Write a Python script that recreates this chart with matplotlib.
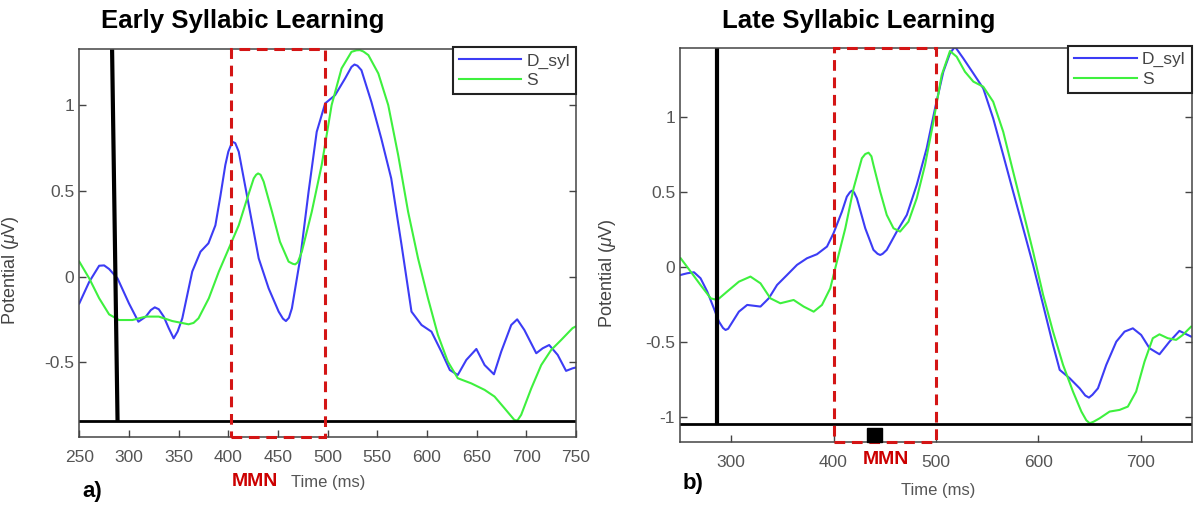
import matplotlib
matplotlib.use("Agg")
import matplotlib.pyplot as plt
from matplotlib.patches import Rectangle

plt.rcParams['font.family'] = ['Liberation Sans', 'DejaVu Sans']
plt.rcParams['mathtext.fontset'] = 'custom'
plt.rcParams['mathtext.it'] = 'Liberation Sans:italic'
plt.rcParams['mathtext.rm'] = 'Liberation Sans'

# ---------------- data: Early syllabic learning ----------------
early_dsyl_t = [250, 260, 270, 275, 280, 288.5, 300, 309.5, 317, 322, 326, 330, 335, 340, 345, 349, 353.7,
                363.7, 372, 380, 387, 392, 397, 400, 404, 407, 410.5, 420.6, 430.6, 440.6, 450.7, 455,
                458, 461, 464, 472.4, 480.8, 489, 497.5, 507.5, 517.6, 524, 527, 530, 534, 544, 554,
                564, 574.4, 584.4, 594.5, 604.5, 614.5, 623, 631, 639.6, 649.7, 658, 667.4, 674.7,
                684.8, 690.8, 698, 710, 716.5, 723, 731.6, 740, 746.6, 750]
early_dsyl_v = [-0.156, -0.03, 0.064, 0.066, 0.045, -0.01, -0.156, -0.263, -0.233, -0.195, -0.179,
                -0.19, -0.233, -0.30, -0.36, -0.32, -0.243, 0.03, 0.146, 0.195, 0.30, 0.47, 0.652,
                0.73, 0.788, 0.78, 0.73, 0.418, 0.107, -0.068, -0.204, -0.245, -0.259, -0.24, -0.185,
                0.107, 0.496, 0.846, 1.012, 1.06, 1.158, 1.225, 1.239, 1.232, 1.206, 1.021, 0.807,
                0.574, 0.185, -0.204, -0.282, -0.321, -0.438, -0.545, -0.574, -0.486, -0.422, -0.516,
                -0.57, -0.438, -0.282, -0.249, -0.311, -0.447, -0.418, -0.399, -0.457, -0.55, -0.535,
                -0.53]
early_s_t = [250, 260, 270, 280, 290, 303.5, 317, 330, 343.6, 360, 365, 370, 380.4, 390.5, 400.5,
             410.5, 419, 425.6, 428, 430, 432.5, 435.6, 444, 452, 460.7, 465, 467.4, 470, 474, 484,
             494, 504, 514, 524, 529, 532.6, 536, 541, 551, 561, 571, 581, 591, 601, 611, 621, 631,
             644.6, 658, 668, 678, 688, 691, 694.8, 705, 715, 725, 735, 746.6, 750]
early_s_v = [0.088, -0.01, -0.126, -0.22, -0.253, -0.253, -0.233, -0.233, -0.259, -0.278, -0.27, -0.243,
             -0.126, 0.03, 0.165, 0.30, 0.457, 0.574, 0.595, 0.603, 0.595, 0.555, 0.379, 0.204, 0.088,
             0.075, 0.072, 0.085, 0.146, 0.379, 0.652, 1.002, 1.216, 1.313, 1.322, 1.323, 1.315,
             1.294, 1.187, 1.002, 0.71, 0.379, 0.107, -0.126, -0.34, -0.496, -0.593, -0.623, -0.661,
             -0.70, -0.768, -0.837, -0.84, -0.807, -0.652, -0.516, -0.428, -0.37, -0.30, -0.29]

# ---------------- data: Late syllabic learning ----------------
late_dsyl_t = [250.6, 257, 263.6, 270, 276.6, 283, 288, 292, 294.5, 297, 299.4, 307.5, 315.6, 328.6,
               336.7, 344.8, 354.6, 364.3, 374, 383.8, 393.6, 400, 408.2, 413, 416, 418, 420, 422.8,
               431, 439, 443, 445.6, 448, 452, 461.8, 471.6, 481.3, 491, 499.2, 507.3, 513.8, 518.7,
               526.8, 536.6, 546.3, 556, 565.8, 575.5, 585.3, 595, 604.8, 614.5, 621, 630.8, 640.5,
               646, 649.6, 653, 658.4, 666.5, 676.3, 684.4, 692.5, 700.6, 708.8, 718.5, 728.3, 738,
               749.4]
late_dsyl_v = [-0.051, -0.04, -0.033, -0.073, -0.162, -0.273, -0.362, -0.405, -0.418, -0.41, -0.384,
               -0.296, -0.251, -0.262, -0.207, -0.118, -0.051, 0.016, 0.06, 0.087, 0.138, 0.227,
               0.371, 0.471, 0.50, 0.511, 0.50, 0.46, 0.26, 0.116, 0.09, 0.082, 0.09, 0.116, 0.238,
               0.349, 0.549, 0.793, 1.06, 1.304, 1.427, 1.471, 1.393, 1.293, 1.193, 0.993, 0.749,
               0.504, 0.26, 0.016, -0.251, -0.518, -0.684, -0.74, -0.807, -0.855, -0.869, -0.85,
               -0.807, -0.651, -0.496, -0.429, -0.407, -0.451, -0.54, -0.58, -0.496, -0.424, -0.462]
late_s_t = [250.6, 260.4, 270, 280, 286.4, 296, 307.5, 318.8, 328.6, 338.3, 348, 361, 370.8, 380.6,
            388.7, 396.8, 403.3, 411.5, 419.6, 427.7, 431, 434.2, 437, 439, 445.6, 452, 458.6, 465,
            473.2, 481.3, 489.4, 497.6, 505.7, 513.8, 520.3, 528.4, 536.6, 546.3, 556, 565.8, 575.5,
            585.3, 595, 604.8, 614.5, 624.3, 634, 642.2, 647, 650.3, 654, 660, 669.8, 679.5, 687.6,
            695.7, 703.9, 712, 718.5, 726.6, 734.8, 741.3, 749.4]
late_s_v = [0.06, -0.029, -0.118, -0.207, -0.218, -0.162, -0.096, -0.062, -0.107, -0.207, -0.24, -0.218,
            -0.262, -0.296, -0.251, -0.14, 0.038, 0.26, 0.527, 0.727, 0.755, 0.764, 0.74, 0.682,
            0.504, 0.349, 0.26, 0.238, 0.304, 0.46, 0.682, 0.971, 1.282, 1.442, 1.404, 1.304, 1.238,
            1.204, 1.104, 0.904, 0.638, 0.371, 0.104, -0.184, -0.429, -0.651, -0.829, -0.962, -1.02,
            -1.04, -1.03, -1.007, -0.962, -0.951, -0.929, -0.829, -0.629, -0.473, -0.447, -0.473,
            -0.484, -0.451, -0.396]

series_labels = ['D_syl', 'S']
early_xticks = [250, 300, 350, 400, 450, 500, 550, 600, 650, 700, 750]
late_xticks = [300, 400, 500, 600, 700]
early_yticks = [-0.5, 0, 0.5, 1]
late_yticks = [-1, -0.5, 0, 0.5, 1]
early_mmn = (403, 497)
late_mmn = (400, 500)
early_stim = (283, 288.5)
late_stim = (285.7, 285.7)
early_base = -0.842
late_base = -1.044
late_sig = (433, 447)

BLUE = '#3c3cf5'
GREEN = '#3ef03e'
RED = '#d41515'
GRAY = '#555555'

fig = plt.figure(figsize=(11.96, 5.07), dpi=100)
axL = fig.add_axes([0.0663, 0.1371, 0.4153, 0.7657])
axR = fig.add_axes([0.5686, 0.1276, 0.4278, 0.7783])


def style(ax, xlim, ylim, xticks, yticks, ylabels):
    ax.set_xlim(*xlim)
    ax.set_ylim(*ylim)
    ax.set_xticks(xticks)
    ax.set_xticklabels([str(x) for x in xticks])
    ax.set_yticks(yticks)
    ax.set_yticklabels(ylabels)
    ax.tick_params(direction='in', length=5, width=1, color='#444444', labelcolor=GRAY,
                   labelsize=12.5, right=True, top=False)
    ax.tick_params(axis='x', pad=9)
    for s in ax.spines.values():
        s.set_color('#444444')
        s.set_linewidth(1.1)


def panel(ax, t1, v1, t2, v2, xlim, ylim, xticks, yticks, ylabels, mmn, stim, base):
    ax.plot(t1, v1, color=BLUE, lw=1.5, label=series_labels[0])
    ax.plot(t2, v2, color=GREEN, lw=1.5, label=series_labels[1])
    ax.axhline(base, color='black', lw=2)
    ax.plot([stim[0], stim[1]], [ylim[1], base], color='black', lw=3, solid_capstyle='butt')
    rect = Rectangle((mmn[0], ylim[0]), mmn[1] - mmn[0], ylim[1] - ylim[0], fill=False,
                     edgecolor=RED, lw=2.2, linestyle=(0, (3.5, 2.2)), clip_on=False, zorder=5)
    ax.add_patch(rect)
    style(ax, xlim, ylim, xticks, yticks, ylabels)
    leg = ax.legend(loc='upper right', bbox_to_anchor=(1.0, 1.005), borderaxespad=0,
                    fontsize=12.5, handlelength=3.6, handletextpad=0.3, labelspacing=0.25,
                    fancybox=False, framealpha=1, borderpad=0.35)
    leg.get_frame().set_edgecolor('#222222')
    leg.get_frame().set_linewidth(1.5)
    for txt in leg.get_texts():
        txt.set_color('#444444')
    ax.set_ylabel(r'Potential ($\mu$V)', fontsize=13, color='#444444')


panel(axL, early_dsyl_t, early_dsyl_v, early_s_t, early_s_v, (250, 750), (-0.939, 1.328),
      early_xticks, early_yticks, ['-0.5', '0', '0.5', '1'], early_mmn, early_stim, early_base)
panel(axR, late_dsyl_t, late_dsyl_v, late_s_t, late_s_v, (250, 750), (-1.167, 1.464),
      late_xticks, late_yticks, ['-1', '-0.5', '0', '0.5', '1'], late_mmn, late_stim, late_base)

axL.yaxis.set_label_coords(-0.117, 0.43)
axR.yaxis.set_label_coords(-0.121, 0.43)

# significance bar in late panel
axR.add_patch(Rectangle((late_sig[0], -1.167), late_sig[1] - late_sig[0], -1.072 + 1.167,
                        color='black', zorder=6, clip_on=False))

# titles
fig.text(243 / 1196, 1 - 21 / 507, 'Early Syllabic Learning', fontsize=18.5, fontweight='bold',
         ha='center', va='center')
fig.text(859 / 1196, 1 - 21 / 507, 'Late Syllabic Learning', fontsize=18.5, fontweight='bold',
         ha='center', va='center')

# x-axis annotations
fig.text(255 / 1196, 1 - 482 / 507, 'MMN', fontsize=14, fontweight='bold', color='#cc0000',
         ha='center', va='center')
fig.text(328 / 1196, 1 - 482 / 507, 'Time (ms)', fontsize=12, color=GRAY, ha='center', va='center')
fig.text(92 / 1196, 1 - 491 / 507, 'a)', fontsize=16, fontweight='bold', ha='center', va='center')

fig.text(886 / 1196, 1 - 459 / 507, 'MMN', fontsize=14, fontweight='bold', color='#cc0000',
         ha='center', va='center')
fig.text(938 / 1196, 1 - 491 / 507, 'Time (ms)', fontsize=12, color=GRAY, ha='center', va='center')
fig.text(693 / 1196, 1 - 484 / 507, 'b)', fontsize=16, fontweight='bold', ha='center', va='center')

fig.savefig('out.png', dpi=100)
